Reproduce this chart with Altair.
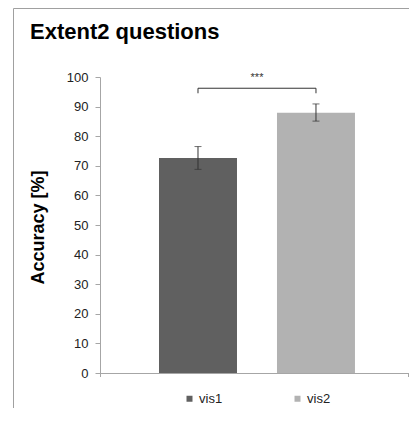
import altair as alt
import pandas as pd

categories = ["vis1", "vis2"]
accuracy = [72.6, 87.9]
err_low = [68.8, 85.1]
err_high = [76.5, 90.9]
colors = ["#606060", "#b2b2b2"]

bracket_y = 96.2
bracket_end = 94.5
stars_y = 98.6

FONT = "Liberation Sans, Arial, sans-serif"

df = pd.DataFrame({"cat": categories, "acc": accuracy, "lo": err_low, "hi": err_high})
br = pd.DataFrame({"x1": [categories[0]], "x2": [categories[1]], "y": [bracket_y]})
br_ends = pd.DataFrame({"cat": categories, "y": [bracket_y] * 2, "y2": [bracket_end] * 2})
stars = pd.DataFrame({"t": ["***"], "y": [stars_y]})

W, H = 309, 296

xscale = alt.Scale(domain=categories, paddingInner=0.339, paddingOuter=0.479, align=0.522)
yscale = alt.Scale(domain=[0, 100], nice=False)

x_axis = alt.Axis(title=None, labels=False, ticks=False, domainColor="#a6a6a6")
y_axis = alt.Axis(title="Accuracy [%]", values=list(range(0, 101, 10)), grid=False,
                  labelOverlap=False,
                  domainColor="#a6a6a6", tickColor="#a6a6a6", tickSize=5,
                  labelPadding=7, labelFontSize=13, labelColor="#222222", labelFont=FONT,
                  titleFont=FONT, titleFontSize=18, titleFontWeight="bold", titleColor="#000000",
                  titleX=-62, titleY=150, titleAlign="center", titleBaseline="middle",
                  titleAngle=270)


def X(field):
    return alt.X(field, scale=xscale, axis=x_axis)


def Y(field):
    return alt.Y(field, scale=yscale, axis=y_axis)


bars = alt.Chart(df).mark_bar().encode(
    x=X("cat:N"),
    y=Y("acc:Q"),
    color=alt.Color("cat:N", scale=alt.Scale(domain=categories, range=colors),
                    legend=alt.Legend(title=None, orient="none", direction="horizontal",
                                      legendX=83, legendY=315, symbolType="square", symbolSize=36,
                                      symbolStrokeWidth=0, labelFontSize=13, labelFont=FONT,
                                      labelColor="#222222", labelOffset=3, columnPadding=68,
                                      padding=0)),
)

err = alt.Chart(df).mark_rule(color="#333333", strokeWidth=1).encode(
    x=X("cat:N"), y=Y("lo:Q"), y2="hi:Q")
cap_lo = alt.Chart(df).mark_tick(color="#333333", thickness=1, size=7, orient="horizontal").encode(
    x=X("cat:N"), y=Y("lo:Q"))
cap_hi = alt.Chart(df).mark_tick(color="#333333", thickness=1, size=7, orient="horizontal").encode(
    x=X("cat:N"), y=Y("hi:Q"))

bracket = alt.Chart(br).mark_rule(color="#333333", strokeWidth=1).encode(
    x=X("x1:N"), x2="x2:N", y=Y("y:Q"))
bracket_ends = alt.Chart(br_ends).mark_rule(color="#333333", strokeWidth=1).encode(
    x=X("cat:N"), y=Y("y:Q"), y2="y2:Q")
star_text = alt.Chart(stars).mark_text(
    fontSize=11, font=FONT, color="#333333", baseline="alphabetic", align="center").encode(
    x=alt.value(157), y=Y("y:Q"), text="t:N")

# decorative frame and x-axis end ticks
frame_top = alt.Chart().mark_rule(color="#a0a0a0", strokeWidth=1).encode(
    x=alt.value(-86.5), x2=alt.value(W + 1), y=alt.value(-68.5))
frame_left = alt.Chart().mark_rule(color="#a0a0a0", strokeWidth=1).encode(
    x=alt.value(-86.5), y=alt.value(-68.5), y2=alt.value(H + 40))
tick_l = alt.Chart().mark_rule(color="#a6a6a6", strokeWidth=1).encode(
    x=alt.value(0.5), y=alt.value(H), y2=alt.value(H + 4))
tick_r = alt.Chart().mark_rule(color="#a6a6a6", strokeWidth=1).encode(
    x=alt.value(W - 0.5), y=alt.value(H), y2=alt.value(H + 4))

chart = alt.layer(bars, err, cap_lo, cap_hi, bracket, bracket_ends, star_text,
                  frame_top, frame_left, tick_l, tick_r).properties(
    width=W, height=H,
    padding={"left": 92, "top": 69, "right": 0, "bottom": 35},
    autosize=alt.AutoSizeParams(type="none"),
    title=alt.TitleParams("Extent2 questions", anchor="start", frame="group", font=FONT,
                          fontSize=22, fontWeight="bold", color="#000000", dx=-70, offset=-53,
                          baseline="alphabetic"),
).configure_view(stroke=None).configure_axis(domainWidth=1)

chart.save("out.html", embed_options={"renderer": "svg", "actions": False})
